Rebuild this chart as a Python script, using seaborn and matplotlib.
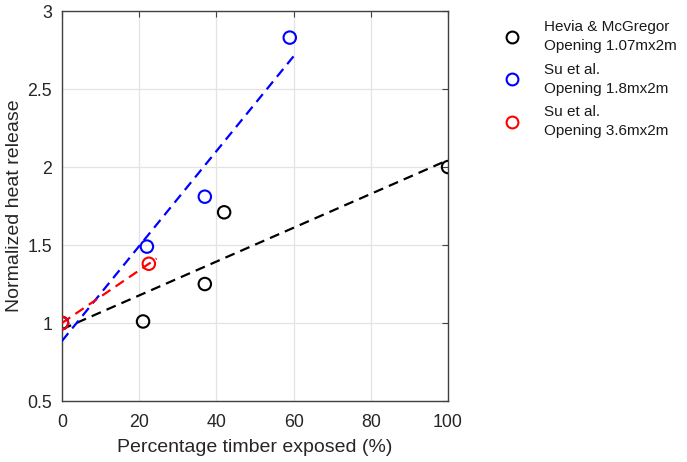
import numpy as np
import pandas as pd
import matplotlib
matplotlib.use("Agg")
import matplotlib.pyplot as plt
import seaborn as sns

# Data
series = ["Hevia & McGregor\nOpening 1.07mx2m",
          "Su et al.\nOpening 1.8mx2m",
          "Su et al.\nOpening 3.6mx2m"]
colors = ["black", "blue", "red"]

hevia_x = [0, 21, 37, 42, 100]
hevia_y = [1.0, 1.01, 1.25, 1.71, 2.0]
su18_x = [0, 22, 37, 59]
su18_y = [1.0, 1.49, 1.81, 2.83]
su36_x = [0, 22.5]
su36_y = [1.0, 1.38]
fit_end = [100, 60, 24.5]

xs = [hevia_x, su18_x, su36_x]
ys = [hevia_y, su18_y, su36_y]

sns.set_theme(style="white")
plt.rcParams["font.family"] = ["Liberation Sans", "DejaVu Sans"]

fig = plt.figure(figsize=(6.87, 4.62), dpi=100)
ax = fig.add_axes([0.0902, 0.132, 0.562, 0.844])

# fit lines
for x, y, c, xe in zip(xs, ys, colors, fit_end):
    p = np.polyfit(x, y, 1)
    xl = np.array([0, xe])
    sns.lineplot(x=xl, y=np.polyval(p, xl), ax=ax, color=c, lw=1.6,
                 linestyle=(0, (4.5, 2.8)), legend=False, zorder=3)

pal = dict(zip(series, colors))
df = pd.concat([pd.DataFrame({"x": x, "y": y, "s": s}) for x, y, s in zip(xs, ys, series)])
sns.scatterplot(data=df, x="x", y="y", hue="s", palette=pal,
                ax=ax, s=80, marker="o", linewidth=1.5, zorder=4, legend=False)
coll = ax.collections[-1]
coll.set_edgecolors([pal[s] for s in df["s"]])
coll.set_facecolors("none")

ax.set_xlim(0, 100)
ax.set_ylim(0.5, 3)
ax.set_xticks([0, 20, 40, 60, 80, 100])
ax.set_yticks([0.5, 1, 1.5, 2, 2.5, 3])
ax.set_yticklabels(["0.5", "1", "1.5", "2", "2.5", "3"])
ax.grid(True, color="#e3e3e3", lw=0.9)
ax.set_axisbelow(True)
for sp in ax.spines.values():
    sp.set_color("#404040")
    sp.set_linewidth(1.0)
ax.tick_params(direction="in", length=4, width=0.8, color="#404040",
               top=True, right=True, labelsize=12.8, labelcolor="#262626")
ax.tick_params(axis="x", pad=9)
ax.tick_params(axis="y", pad=7)
ax.set_xlabel("Percentage timber exposed (%)", fontsize=14, color="#262626", labelpad=6)
ax.set_ylabel("Normalized heat release", fontsize=14, color="#262626", labelpad=3)

handles = [plt.Line2D([], [], marker="o", ls="none", markerfacecolor="none",
                      markeredgecolor=c, markersize=8.5, markeredgewidth=1.5) for c in colors]
leg = ax.legend(handles, series, loc="upper left", bbox_to_anchor=(1.10, 1.012), frameon=False,
                fontsize=11, handletextpad=1.35, labelspacing=0.62, handlelength=1.5,
                labelcolor="#1a1a1a")
for t in leg.get_texts():
    t.set_linespacing(1.45)

fig.savefig("out.png", dpi=100)
